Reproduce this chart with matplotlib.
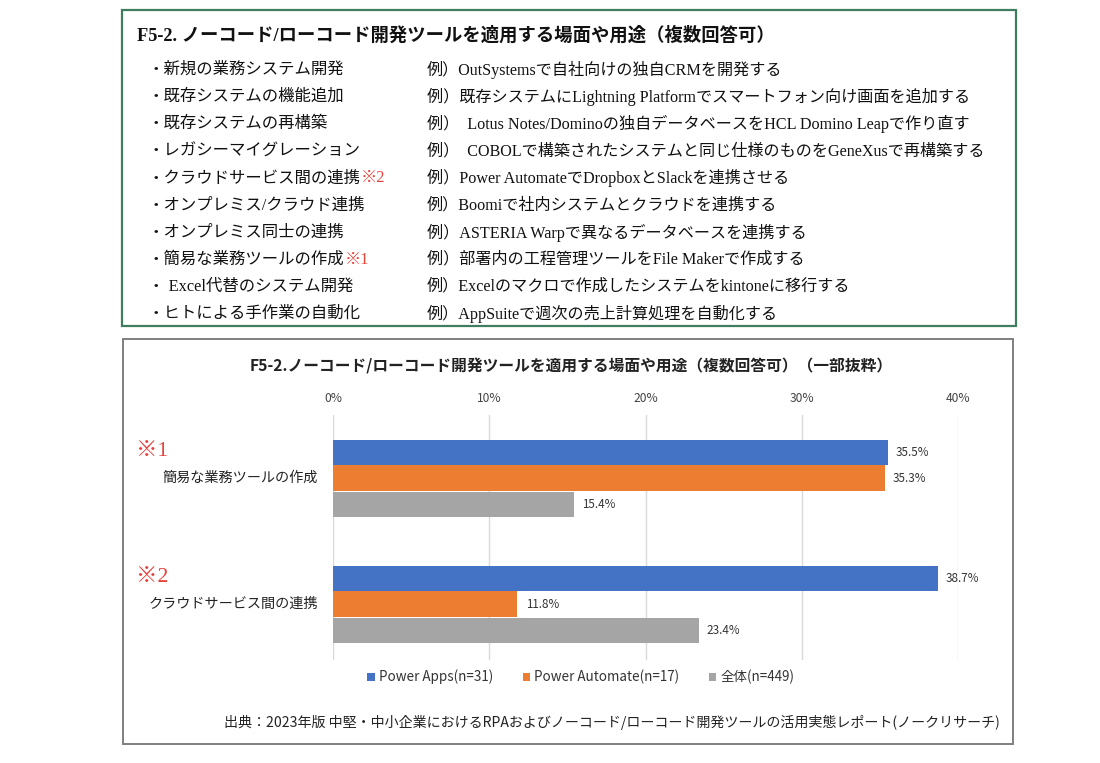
import matplotlib
matplotlib.use("Agg")
import matplotlib.pyplot as plt
from matplotlib.patches import Rectangle
from matplotlib.text import Annotation
import matplotlib.transforms as mtransforms
import numpy as np

plt.rcParams['font.family'] = ['Noto Sans CJK JP', 'DejaVu Sans']

# ---------------- data ----------------
categories = ["簡易な業務ツールの作成", "クラウドサービス間の連携"]
category_marks = ["※1", "※2"]
series_names = ["Power Apps(n=31)", "Power Automate(n=17)", "全体(n=449)"]
power_apps = [35.5, 38.7]
power_automate = [35.3, 11.8]
overall = [15.4, 23.4]
x_ticks = [0, 10, 20, 30, 40]
x_tick_labels = ["0%", "10%", "20%", "30%", "40%"]

box_title = "F5-2. ノーコード/ローコード開発ツールを適用する場面や用途（複数回答可）"
usage_items = ["・新規の業務システム開発", "・既存システムの機能追加", "・既存システムの再構築",
               "・レガシーマイグレーション", "・クラウドサービス間の連携", "・オンプレミス/クラウド連携",
               "・オンプレミス同士の連携", "・簡易な業務ツールの作成", "・ Excel代替のシステム開発",
               "・ヒトによる手作業の自動化"]
usage_notes = ["", "", "", "", "※2", "", "", "※1", "", ""]
usage_examples = ["例）OutSystemsで自社向けの独自CRMを開発する",
                  "例）既存システムにLightning Platformでスマートフォン向け画面を追加する",
                  "例）  Lotus Notes/Dominoの独自データベースをHCL Domino Leapで作り直す",
                  "例）  COBOLで構築されたシステムと同じ仕様のものをGeneXusで再構築する",
                  "例）Power AutomateでDropboxとSlackを連携させる",
                  "例）Boomiで社内システムとクラウドを連携する",
                  "例）ASTERIA Warpで異なるデータベースを連携する",
                  "例）部署内の工程管理ツールをFile Makerで作成する",
                  "例）Excelのマクロで作成したシステムをkintoneに移行する",
                  "例）AppSuiteで週次の売上計算処理を自動化する"]
chart_title = "F5-2.ノーコード/ローコード開発ツールを適用する場面や用途（複数回答可）（一部抜粋）"
source_text = "出典：2023年版 中堅・中小企業におけるRPAおよびノーコード/ローコード開発ツールの活用実態レポート(ノークリサーチ)"

colors = ["#4472C4", "#ED7D31", "#A5A5A5"]

W, H = 1100, 763
fig = plt.figure(figsize=(W / 100, H / 100), dpi=100)
fig.patch.set_facecolor("white")

def fx(px):
    return px / W

def fy(py):
    return 1 - py / H

# ---------------- top box ----------------
fig.patches.append(Rectangle((fx(122), fy(326)), fx(1016) - fx(122), fy(10) - fy(326),
                             transform=fig.transFigure, fill=False, edgecolor="#3E7E5E", linewidth=1.6))
mixfont = ['Liberation Serif', 'Noto Sans CJK JP']
fig.text(fx(137), fy(35), box_title, fontsize=13.2, fontweight='bold', family=mixfont,
         ha='left', va='center', color="#111111")
row_y0, row_dy = 70, 27.1
for i, (item, note, ex) in enumerate(zip(usage_items, usage_notes, usage_examples)):
    y = fy(row_y0 + i * row_dy)
    t = fig.text(fx(148), y, item, fontsize=11.8, family=mixfont, ha='left', va='center', color="#111111")
    if note:
        fig.add_artist(Annotation(note, xy=(1.0, 0.5), xycoords=t, xytext=(0, 0),
                                  textcoords='offset points', fontsize=11.8, family=mixfont,
                                  color="#E8413A", ha='left', va='center'))
    fig.text(fx(427), y, ex, fontsize=11.6, family=mixfont, ha='left', va='center', color="#111111")

# ---------------- bottom box ----------------
fig.patches.append(Rectangle((fx(123), fy(744)), fx(1013) - fx(123), fy(339) - fy(744),
                             transform=fig.transFigure, fill=False, edgecolor="#7F7F7F", linewidth=1.4))
fig.text(fx(571), fy(366), chart_title, fontsize=11.3, fontweight='bold', ha='center', va='center',
         color="#222222")

ax = fig.add_axes([fx(333), fy(660), fx(958) - fx(333), fy(415) - fy(660)])
ypos = np.arange(len(categories))
bh = 0.2
offs = [-0.205, 0.0, 0.21]
series = [power_apps, power_automate, overall]
for s, vals, c, off in zip(series_names, series, colors, offs):
    bars = ax.barh(ypos + off, vals, height=bh, color=c, label=s, zorder=3)
    for b, v in zip(bars, vals):
        ax.annotate(f"{v:.1f}%", xy=(v, b.get_y() + b.get_height() / 2), xytext=(6, 0),
                    textcoords='offset points', ha='left', va='center', fontsize=8.4, color="#333333")

ax.set_xlim(0, 40)
ax.set_ylim(1.444, -0.5)
ax.set_xticks(x_ticks)
ax.set_xticklabels(x_tick_labels)
ax.xaxis.tick_top()
ax.tick_params(axis='x', length=0, pad=7, labelsize=8.7, labelcolor="#444444")
ax.set_yticks([])
ax.grid(axis='x', color="#D9D9D9", linewidth=1.0, zorder=0)
for sp in ax.spines.values():
    sp.set_visible(False)

mark_tr = mtransforms.blended_transform_factory(fig.transFigure, ax.transData)
for i, (cat, mark) in enumerate(zip(categories, category_marks)):
    ax.annotate(cat, xy=(0, i), xycoords=('axes fraction', 'data'), xytext=(-11, 0),
                textcoords='offset points', ha='right', va='center', fontsize=10.2, color="#222222")
    ax.text(fx(136), i - 0.21, mark, transform=mark_tr, ha='left', va='center', fontsize=15.5,
            color="#E8413A", family=mixfont)

leg = fig.legend(loc='center', bbox_to_anchor=(fx(581), fy(677)), ncol=3, frameon=False,
                 handlelength=0.55, handleheight=0.55, handletextpad=0.3, columnspacing=2.2,
                 fontsize=9.7)
for t in leg.get_texts():
    t.set_color("#333333")

fig.text(fx(612), fy(722), source_text, fontsize=10.1, ha='center', va='center', color="#222222")

fig.savefig("out.png", dpi=100, facecolor="white")
